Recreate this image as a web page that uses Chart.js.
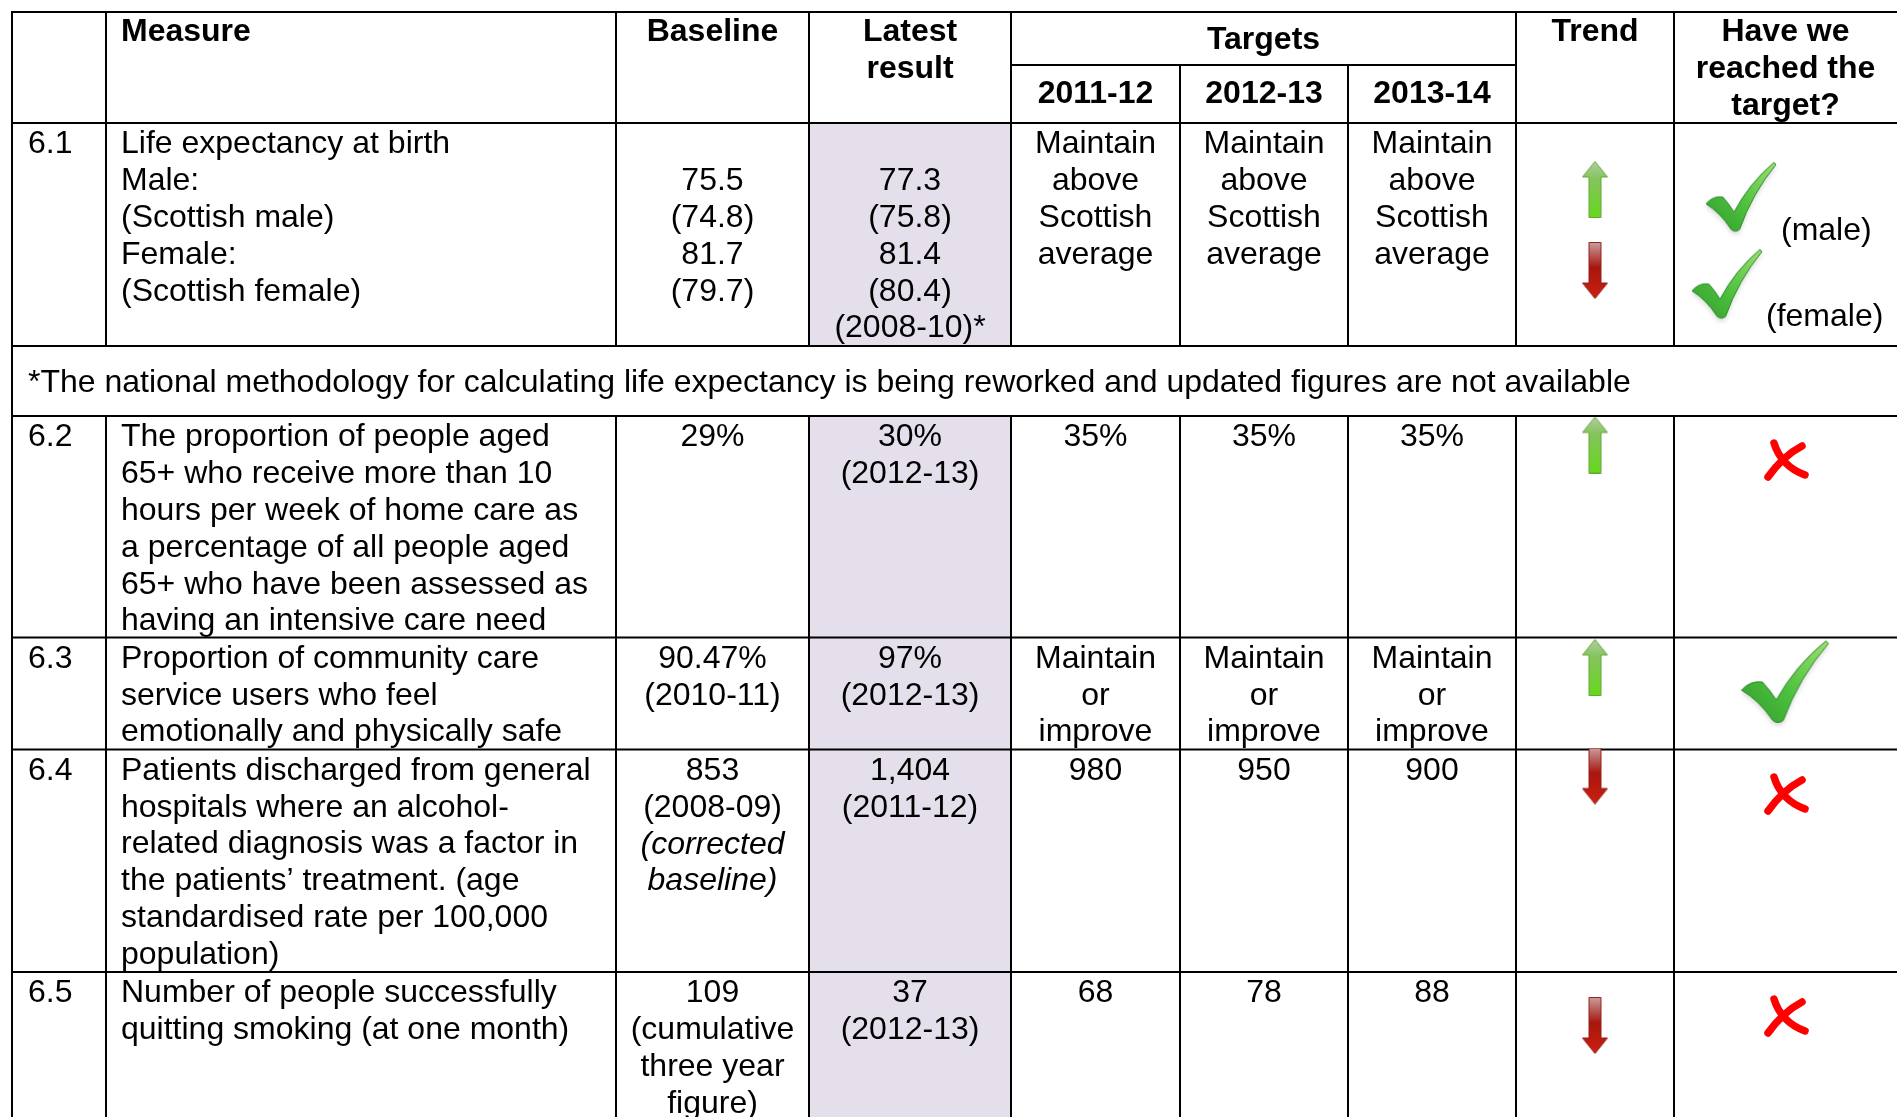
<!DOCTYPE html>
<html>
<head>
<meta charset="utf-8">
<script src="https://cdn.jsdelivr.net/npm/chart.js@4.4.0/dist/chart.umd.min.js"></script>
<style>
  html, body { margin: 0; padding: 0; background: #fff; }
  canvas { display: block; }
</style>
</head>
<body>
<canvas id="tableChart" width="1897" height="1117"></canvas>
<script>
// Table content
const headerMeasure = 'Measure';
const headerBaseline = 'Baseline';
const headerLatest = ['Latest', 'result'];
const headerTargets = 'Targets';
const targetYears = ['2011-12', '2012-13', '2013-14'];
const headerTrend = 'Trend';
const headerReached = ['Have we', 'reached the', 'target?'];

const rowIds = ['6.1', '6.2', '6.3', '6.4', '6.5'];
const measures = [
  ['Life expectancy at birth', 'Male:', '(Scottish male)', 'Female:', '(Scottish female)'],
  ['The proportion of people aged', '65+ who receive more than 10', 'hours per week of home care as',
   'a percentage of all people aged', '65+ who have been assessed as', 'having an intensive care need'],
  ['Proportion of community care', 'service users who feel', 'emotionally and physically safe'],
  ['Patients discharged from general', 'hospitals where an alcohol-', 'related diagnosis was a factor in',
   'the patients\u2019 treatment. (age', 'standardised rate per 100,000', 'population)'],
  ['Number of people successfully', 'quitting smoking (at one month)']
];
const baselines = [
  ['', '75.5', '(74.8)', '81.7', '(79.7)'],
  ['29%'],
  ['90.47%', '(2010-11)'],
  ['853', '(2008-09)', '(corrected', 'baseline)'],
  ['109', '(cumulative', 'three year', 'figure)']
];
const baselineItalic = [[], [], [], [2, 3], []];
const latestResults = [
  ['', '77.3', '(75.8)', '81.4', '(80.4)', '(2008-10)*'],
  ['30%', '(2012-13)'],
  ['97%', '(2012-13)'],
  ['1,404', '(2011-12)'],
  ['37', '(2012-13)']
];
const target2011 = [['Maintain', 'above', 'Scottish', 'average'], ['35%'], ['Maintain', 'or', 'improve'], ['980'], ['68']];
const target2012 = [['Maintain', 'above', 'Scottish', 'average'], ['35%'], ['Maintain', 'or', 'improve'], ['950'], ['78']];
const target2013 = [['Maintain', 'above', 'Scottish', 'average'], ['35%'], ['Maintain', 'or', 'improve'], ['900'], ['88']];
const trendDirs = [['up', 'down'], ['up'], ['up'], ['down'], ['down']];
const reached = [['yes', 'yes'], ['no'], ['yes'], ['no'], ['no']];
const reachedNotes = [['(male)', '(female)'], [], [], [], []];
const footnote = '*The national methodology for calculating life expectancy is being reworked and updated figures are not available';

// Layout (canvas units)
const W = 1897, H = 1117;
const colEdges = [12, 106, 616, 809, 1011, 1180, 1348, 1516, 1674, W];
const headerTop = 12, targetsLine = 65, headerBottom = 123;
const noteTop = 346, noteBottom = 416;
const rowTops = [123, 416, 637.5, 749.5, 972];
const LINE_H = 36.8, FIRST_LINE = 21.5;
const trendIconY = [[189.5, 270.5], [445], [667.5], [776], [1025.5]];
const reachedIconPos = [[[1741, 197, 'S'], [1727, 284, 'S']], [[1786, 460]], [[1785, 682, 'L']], [[1786, 794]], [[1786, 1016]]];
const reachedNotePos = [[[1781, 231], [1766, 317]], [], [], [], []];
const LATEST_FILL = '#e5dfec';
const FONT = '"Liberation Sans", Arial, sans-serif';

// Icon images used as point styles
function makeArrow(dir) {
  const c = document.createElement('canvas');
  c.width = 27; c.height = 57;
  const g = c.getContext('2d');
  if (dir === 'down') { g.translate(0, 57); g.scale(1, -1); }
  const grad = g.createLinearGradient(0, 0, 0, 57);
  if (dir === 'up') {
    grad.addColorStop(0, '#b2cfa4');
    grad.addColorStop(0.3, '#86c460');
    grad.addColorStop(1, '#66d81a');
  } else {
    grad.addColorStop(0, '#cc2010');
    grad.addColorStop(0.55, '#a8160e');
    grad.addColorStop(1, '#c9a0a0');
  }
  g.beginPath();
  g.moveTo(13.5, 0.5);
  g.lineTo(26, 16);
  g.lineTo(19.5, 16);
  g.lineTo(19.5, 56.5);
  g.lineTo(7.5, 56.5);
  g.lineTo(7.5, 16);
  g.lineTo(1, 16);
  g.closePath();
  g.fillStyle = grad;
  g.fill();
  g.lineWidth = 1;
  g.strokeStyle = dir === 'up' ? '#62a838' : '#962018';
  g.stroke();
  return c;
}

function makeCheck(w, h) {
  const c = document.createElement('canvas');
  c.width = w + 10; c.height = h + 10;
  const g = c.getContext('2d');
  g.translate(5, 5);
  const P = (px, py) => [px * w, py * h];
  g.shadowColor = 'rgba(0,0,0,0.16)';
  g.shadowBlur = 5;
  g.shadowOffsetY = 3;
  const grad = g.createLinearGradient(0, h, w, 0);
  grad.addColorStop(0, '#2f9a2f');
  grad.addColorStop(0.45, '#4cc03c');
  grad.addColorStop(1, '#9ae070');
  g.beginPath();
  g.moveTo(...P(0.0, 0.6));
  g.quadraticCurveTo(...P(0.1, 0.48), ...P(0.24, 0.5));
  g.quadraticCurveTo(...P(0.33, 0.6), ...P(0.40, 0.72));
  g.quadraticCurveTo(...P(0.62, 0.3), ...P(0.97, 0.0));
  g.lineTo(...P(1.0, 0.03));
  g.quadraticCurveTo(...P(0.66, 0.45), ...P(0.48, 0.97));
  g.quadraticCurveTo(...P(0.42, 1.02), ...P(0.36, 0.97));
  g.quadraticCurveTo(...P(0.2, 0.72), ...P(0.0, 0.6));
  g.closePath();
  g.fillStyle = grad;
  g.fill();
  g.shadowColor = 'transparent';
  g.lineWidth = 1;
  g.strokeStyle = '#2a8a2a';
  g.stroke();
  return c;
}

function makeCross() {
  const c = document.createElement('canvas');
  c.width = 50; c.height = 44;
  const g = c.getContext('2d');
  g.strokeStyle = '#ff0000';
  g.lineCap = 'round';
  g.lineJoin = 'round';
  g.lineWidth = 7.5;
  g.beginPath();
  g.moveTo(13, 5);
  g.quadraticCurveTo(20, 28, 44, 37);
  g.stroke();
  g.beginPath();
  g.moveTo(41, 8);
  g.quadraticCurveTo(22, 18, 7, 39);
  g.stroke();
  return c;
}

const arrowUp = makeArrow('up');
const arrowDown = makeArrow('down');
const checkSmall = makeCheck(70, 69);
const checkLarge = makeCheck(87, 82);
const crossImg = makeCross();

// Build point datasets from the row data
const trendX = (colEdges[7] + colEdges[8]) / 2;
const upPoints = [], downPoints = [], checkPoints = [], crossPoints = [];
trendDirs.forEach((dirs, r) => {
  dirs.forEach((d, i) => {
    const pt = { x: trendX, y: trendIconY[r][i] };
    (d === 'up' ? upPoints : downPoints).push(pt);
  });
});
reached.forEach((marks, r) => {
  marks.forEach((m, i) => {
    const pos = reachedIconPos[r][i];
    if (m === 'yes') checkPoints.push({ x: pos[0], y: pos[1], size: pos[2] });
    else crossPoints.push({ x: pos[0], y: pos[1] });
  });
});

// Draws the table grid and its text behind the icon points
const tablePlugin = {
  id: 'tableCells',
  beforeDatasetsDraw(chart) {
    const { ctx, scales: { x, y } } = chart;
    const px = v => x.getPixelForValue(v);
    const py = v => y.getPixelForValue(v);
    ctx.save();

    // latest result shading
    ctx.fillStyle = LATEST_FILL;
    ctx.fillRect(px(colEdges[3]), py(headerBottom), px(colEdges[4]) - px(colEdges[3]), py(noteTop) - py(headerBottom));
    ctx.fillRect(px(colEdges[3]), py(noteBottom), px(colEdges[4]) - px(colEdges[3]), py(H) - py(noteBottom));

    // grid lines
    ctx.strokeStyle = '#000';
    ctx.lineWidth = 2;
    const hLine = (yv, x0, x1) => { ctx.beginPath(); ctx.moveTo(px(x0), py(yv)); ctx.lineTo(px(x1), py(yv)); ctx.stroke(); };
    const vLine = (xv, y0, y1) => { ctx.beginPath(); ctx.moveTo(px(xv), py(y0)); ctx.lineTo(px(xv), py(y1)); ctx.stroke(); };
    [headerTop, headerBottom, noteTop, noteBottom, ...rowTops.slice(2)].forEach(v => hLine(v, colEdges[0] - 1, W));
    hLine(targetsLine, colEdges[4], colEdges[7]);
    vLine(colEdges[0], headerTop - 1, H);
    colEdges.slice(1, 9).forEach((cx, i) => {
      const top = (i === 4 || i === 5) ? targetsLine : headerTop;
      vLine(cx, top, noteTop);
      vLine(cx, noteBottom, H);
    });

    // text helpers
    ctx.fillStyle = '#000';
    ctx.textBaseline = 'middle';
    const mid = c => (colEdges[c] + colEdges[c + 1]) / 2;
    const text = (s, xv, yv, align, style) => {
      ctx.font = (style || '') + ' 32px ' + FONT;
      ctx.textAlign = align;
      ctx.fillText(s, px(xv), py(yv));
    };

    // header
    text(headerMeasure, 121, 32.5, 'left', 'bold');
    text(headerBaseline, mid(2), 32.5, 'center', 'bold');
    headerLatest.forEach((s, i) => text(s, mid(3), 32.5 + i * 37, 'center', 'bold'));
    text(headerTargets, (colEdges[4] + colEdges[7]) / 2, 40.5, 'center', 'bold');
    targetYears.forEach((s, i) => text(s, mid(4 + i), 94, 'center', 'bold'));
    text(headerTrend, mid(7), 32.5, 'center', 'bold');
    headerReached.forEach((s, i) => text(s, mid(8), 32.5 + i * 37, 'center', 'bold'));

    // footnote row
    text(footnote, 28, (noteTop + noteBottom) / 2 + 2, 'left');

    // body rows
    rowIds.forEach((id, r) => {
      const lineY = i => rowTops[r] + FIRST_LINE + i * LINE_H;
      text(id, 28, lineY(0), 'left');
      measures[r].forEach((s, i) => text(s, 121, lineY(i), 'left'));
      baselines[r].forEach((s, i) => text(s, mid(2), lineY(i), 'center', baselineItalic[r].includes(i) ? 'italic' : ''));
      latestResults[r].forEach((s, i) => text(s, mid(3), lineY(i), 'center'));
      [target2011, target2012, target2013].forEach((t, k) => {
        t[r].forEach((s, i) => text(s, mid(4 + k), lineY(i), 'center'));
      });
      reachedNotes[r].forEach((s, i) => text(s, reachedNotePos[r][i][0], reachedNotePos[r][i][1], 'left'));
    });

    ctx.restore();
  }
};

const chart = new Chart(document.getElementById('tableChart').getContext('2d'), {
  type: 'scatter',
  data: {
    datasets: [
      { label: 'Trend up', data: upPoints, pointStyle: arrowUp },
      { label: 'Trend down', data: downPoints, pointStyle: arrowDown },
      { label: 'Reached', data: checkPoints, pointStyle: c => (c.raw && c.raw.size === 'L') ? checkLarge : checkSmall },
      { label: 'Not reached', data: crossPoints, pointStyle: crossImg }
    ]
  },
  options: {
    responsive: false,
    animation: false,
    events: [],
    layout: { padding: 0, autoPadding: false },
    plugins: { legend: { display: false }, tooltip: { enabled: false } },
    scales: {
      x: { type: 'linear', min: 0, max: W, display: false },
      y: { type: 'linear', min: 0, max: H, reverse: true, display: false }
    }
  },
  plugins: [tablePlugin]
});
</script>
</body>
</html>
